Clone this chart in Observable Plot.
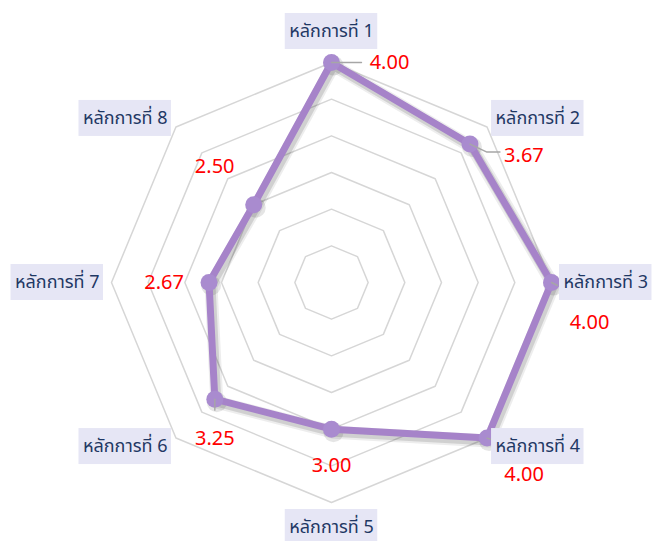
<!DOCTYPE html>
<html><head><meta charset="utf-8">
<script src="https://cdn.jsdelivr.net/npm/d3@7"></script>
<script src="https://cdn.jsdelivr.net/npm/@observablehq/plot@0.6"></script>
<style>html,body{margin:0;padding:0;background:#fff}#chart{width:656px;height:541px;overflow:hidden}</style>
</head><body><div id="chart"></div>
<script>
// ---- data ----
const categories = ["หลักการที่ 1","หลักการที่ 2","หลักการที่ 3","หลักการที่ 4","หลักการที่ 5","หลักการที่ 6","หลักการที่ 7","หลักการที่ 8"];
const values = [4.00, 3.67, 4.00, 4.00, 3.00, 3.25, 2.67, 2.50];
const valueLabels = ["4.00","3.67","4.00","4.00","3.00","3.25","2.67","2.50"];
const gridLevels = [1.5, 2, 2.5, 3, 3.5, 4];
const axisMin = 1, axisMax = 4;

// ---- layout / style ----
const W = 656, H = 541, cx = 331, cy = 282, R = 220;
const labelOffsets = [[58,0],[54,12],[38,40],[37,37],[0,36],[0,39],[-45,0],[-39,-38]];
const leaderOffsets = [[[30,0]], [[17,8],[30,8]], [[6,3]], [[6,2]], null, [[0,11]], null, null];
const FONT = "Tahoma, 'Noto Sans', 'Noto Sans Thai', 'DejaVu Sans', sans-serif";
const CAT_SIZE = 18;

const n = categories.length;
const rad = d3.scaleLinear([axisMin, axisMax], [0, R]);
const ang = i => i * 2 * Math.PI / n;
const px = (i, r) => Math.sin(ang(i)) * r;
const py = (i, r) => Math.cos(ang(i)) * r;

const rings = gridLevels.flatMap(l => categories.map((c, i) => ({level: l, x: px(i, rad(l)), y: py(i, rad(l))})));
const pts = values.map((v, i) => ({x: px(i, rad(v)), y: py(i, rad(v))}));

const ctx = document.createElement("canvas").getContext("2d");
ctx.font = `${CAT_SIZE}px ${FONT}`;

const catPos = categories.map((c, i) => {
  const s = Math.sin(ang(i)), co = Math.cos(ang(i));
  const rr = R + 12;
  let x = s * rr, y = co * rr;
  if (co > 0.9) y += 19;
  if (co < -0.9) y -= 13;
  const anchor = s > 0.1 ? "start" : s < -0.1 ? "end" : "middle";
  const w = ctx.measureText(c).width;
  const x1 = anchor === "start" ? x : anchor === "end" ? x - w : x - w / 2;
  return {c, x, y, anchor, x1: x1 - 4, x2: x1 + w + 4, y1: y - 18, y2: y + 18};
});

const valPos = values.map((v, i) => ({label: valueLabels[i], x: pts[i].x + labelOffsets[i][0], y: pts[i].y - labelOffsets[i][1]}));

const leaders = pts.flatMap((p, i) => leaderOffsets[i] ? [{k: i, x: p.x, y: p.y}, ...leaderOffsets[i].map(o => ({k: i, x: p.x + o[0], y: p.y - o[1]}))] : []);

const catText = anchor => Plot.text(catPos, {
  filter: d => d.anchor === anchor, x: "x", y: "y", text: "c", textAnchor: anchor, lineAnchor: "middle",
  fill: "#1f3864", fontSize: CAT_SIZE, fontFamily: FONT
});

const chart = Plot.plot({
  width: W, height: H, margin: 0,
  x: {domain: [-cx, W - cx], range: [0, W], axis: null},
  y: {domain: [-(H - cy), cy], range: [H, 0], axis: null},
  style: {fontFamily: FONT, background: "white"},
  marks: [
    Plot.line(rings, {x: "x", y: "y", z: "level", curve: "linear-closed", stroke: "#d6d6d6", strokeWidth: 1.5}),
    Plot.line(pts, {x: "x", y: "y", curve: "linear-closed", stroke: "#000", strokeOpacity: 0.07, strokeWidth: 13, strokeLinejoin: "round", dx: 2, dy: 3}),
    Plot.line(pts, {x: "x", y: "y", curve: "linear-closed", stroke: "#000", strokeOpacity: 0.12, strokeWidth: 9, strokeLinejoin: "round", dx: 2, dy: 3}),
    Plot.dot(pts, {x: "x", y: "y", r: 10, fill: "#000", fillOpacity: 0.1, dx: 2, dy: 3}),
    Plot.line(pts, {x: "x", y: "y", curve: "linear-closed", stroke: "#a683c9", strokeWidth: 7}),
    Plot.dot(pts, {x: "x", y: "y", r: 8.5, fill: "#a98bcf"}),
    Plot.line(leaders, {x: "x", y: "y", z: "k", stroke: "#a6a6a6", strokeWidth: 1.4}),
    Plot.rect(catPos, {x1: "x1", x2: "x2", y1: "y1", y2: "y2", fill: "#e6e6f5"}),
    catText("start"), catText("end"), catText("middle"),
    Plot.text(valPos, {x: "x", y: "y", text: "label", textAnchor: "middle", lineAnchor: "middle", fill: "#ff0000", fontSize: 20, fontFamily: FONT})
  ]
});
document.getElementById("chart").appendChild(chart);
</script></body></html>
